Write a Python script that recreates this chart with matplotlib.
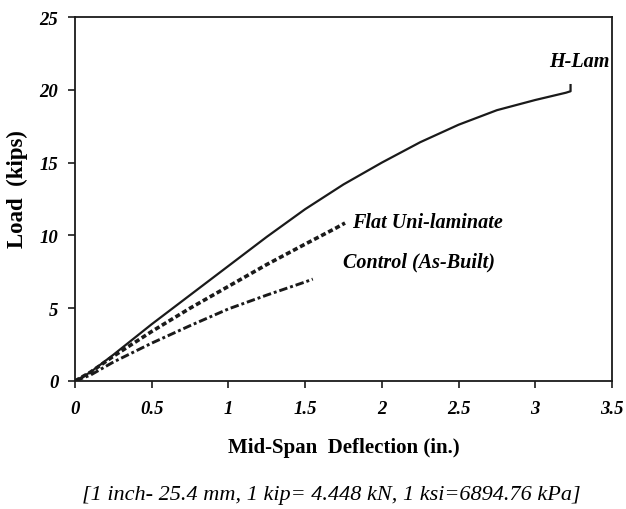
import matplotlib
matplotlib.use("Agg")
import matplotlib.pyplot as plt

# 데이터
hlam_x = [0, 0.1, 0.25, 0.5, 0.75, 1.0, 1.25, 1.5, 1.75, 2.0, 2.25, 2.5, 2.75, 3.0, 3.2, 3.23, 3.23]
hlam_y = [0, 0.6, 1.8, 3.9, 5.9, 7.9, 9.9, 11.8, 13.5, 15.0, 16.4, 17.6, 18.6, 19.3, 19.8, 19.9, 20.4]

flat_x = [0, 0.1, 0.25, 0.5, 0.75, 1.0, 1.25, 1.5, 1.7, 1.76]
flat_y = [0, 0.6, 1.7, 3.4, 5.0, 6.5, 8.0, 9.4, 10.5, 10.85]

ctrl_x = [0, 0.1, 0.25, 0.5, 0.75, 1.0, 1.25, 1.5, 1.55]
ctrl_y = [0, 0.4, 1.3, 2.6, 3.8, 4.95, 5.9, 6.8, 7.0]

xticks = [0, 0.5, 1, 1.5, 2, 2.5, 3, 3.5]
xtick_labels = ["0", "0.5", "1", "1.5", "2", "2.5", "3", "3.5"]
yticks = [0, 5, 10, 15, 20, 25]

plt.rcParams['font.family'] = ['Liberation Serif', 'DejaVu Serif']

fig = plt.figure(figsize=(6.26, 5.10), dpi=100)
ax = fig.add_axes([0.1198, 0.251, 0.8578, 0.7137])

ink = "#1a1a1a"
ax.plot(hlam_x, hlam_y, color=ink, lw=1.6, solid_capstyle="butt")
ax.plot(flat_x, flat_y, color=ink, lw=2.6, linestyle=(0, (1.4, 0.8)))
ax.plot(ctrl_x, ctrl_y, color=ink, lw=2.1, linestyle=(0, (2.9, 1.0, 1.0, 1.0)))

ax.set_xlim(0, 3.5)
ax.set_ylim(0, 25)
ax.set_xticks(xticks)
ax.set_xticklabels(xtick_labels)
ax.set_yticks(yticks)

for lab in ax.get_xticklabels() + ax.get_yticklabels():
    lab.set_fontstyle("italic")
    lab.set_fontweight("bold")
    lab.set_fontsize(13.5)

ax.tick_params(direction="out", length=5, width=1.2, color=ink, pad=7)
ax.tick_params(axis="x", pad=9)
for sp in ax.spines.values():
    sp.set_linewidth(1.3)
    sp.set_color(ink)

ax.set_xlabel("Mid-Span  Deflection (in.)", fontsize=15, fontweight="bold", labelpad=14)
ax.set_ylabel("Load  (kips)", fontsize=16.5, fontweight="bold")
ax.yaxis.set_label_coords(-0.088, 0.53)

lbl = dict(fontsize=14.5, fontweight="bold", fontstyle="italic", va="center")
ax.text(3.285, 22.0, "H-Lam", ha="center", **lbl)
ax.text(1.806, 10.92, "Flat Uni-laminate", ha="left", **lbl)
ax.text(1.747, 8.24, "Control (As-Built)", ha="left", **lbl)

fig.text(0.529, 0.029, "[1 inch- 25.4 mm, 1 kip= 4.448 kN, 1 ksi=6894.76 kPa]",
         fontsize=16, fontstyle="italic", ha="center", va="center")

plt.savefig("out.png", dpi=100)
